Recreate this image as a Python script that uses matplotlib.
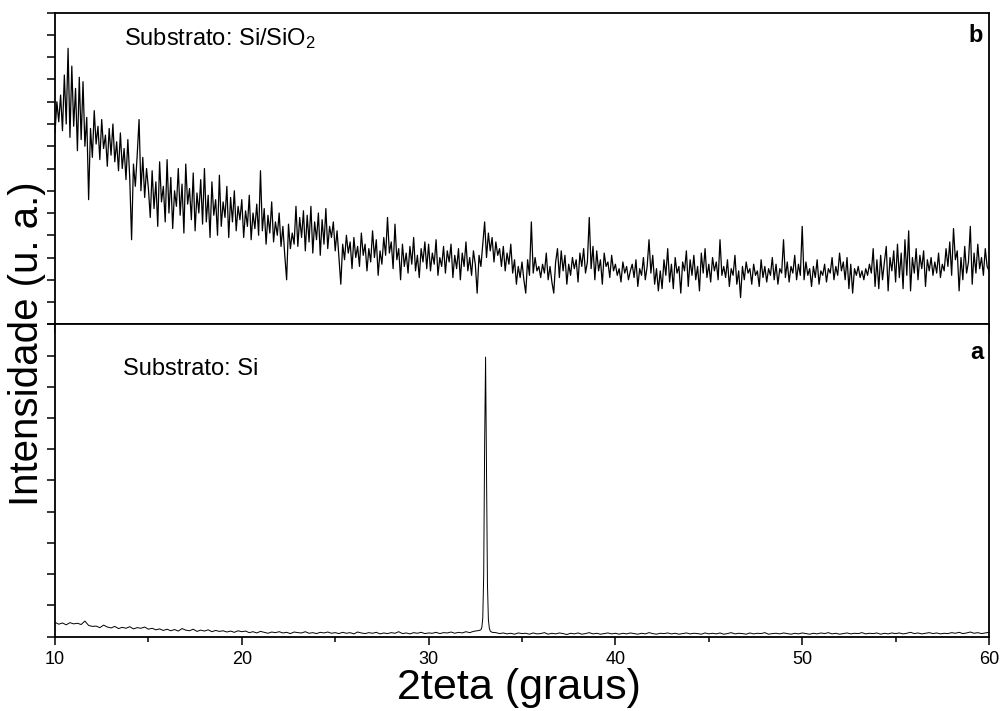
import numpy as np
import matplotlib.pyplot as plt
from matplotlib.ticker import MultipleLocator

plt.rcParams['font.family'] = ['Liberation Sans', 'DejaVu Sans']
plt.rcParams['mathtext.fontset'] = 'custom'
plt.rcParams['mathtext.rm'] = 'Liberation Sans'
plt.rcParams['mathtext.it'] = 'Liberation Sans:italic'

# (b) substrato Si/SiO2, passo de 0.1 grau
dois_teta_b = np.round(np.arange(10.0, 60.0001, 0.1), 1)
intensidade_b = [
    # 10.0 - 14.9
    8.6, 10.0, 9.1, 10.3, 8.7, 11.2, 9.0, 12.4, 8.4, 11.6,
    8.9, 10.6, 7.8, 11.1, 8.3, 10.9, 8.0, 9.3, 5.6, 8.8,
    7.5, 9.6, 8.1, 8.9, 7.4, 9.2, 7.9, 8.5, 7.1, 8.8,
    7.6, 9.0, 7.3, 8.2, 6.9, 8.6, 7.0, 7.9, 6.5, 8.3,
    6.6, 3.8, 7.2, 6.2, 7.6, 9.2, 6.0, 7.5, 5.7, 7.0,
    # 15.0 - 19.9
    6.1, 4.8, 6.9, 5.2, 6.4, 4.4, 7.3, 5.5, 6.2, 4.6,
    7.4, 5.0, 6.6, 4.3, 6.0, 5.3, 7.0, 4.9, 6.3, 4.1,
    7.2, 5.4, 6.1, 4.7, 6.8, 4.2, 5.9, 5.0, 6.5, 4.5,
    7.0, 4.6, 5.8, 3.9, 6.4, 4.9, 5.6, 4.0, 6.7, 4.4,
    5.5, 4.8, 6.2, 3.9, 5.7, 4.6, 6.0, 4.2, 5.3, 4.7,
    # 20.0 - 24.9
    5.6, 3.9, 5.1, 4.4, 5.8, 3.8, 5.0, 4.3, 5.4, 4.0,
    6.9, 4.2, 5.2, 3.6, 4.9, 4.1, 5.5, 3.7, 4.6, 4.0,
    5.0, 3.5, 4.4, 3.1, 2.0, 4.5, 3.4, 4.1, 3.6, 5.3,
    3.5, 4.8, 3.9, 5.1, 3.3, 4.9, 3.7, 5.3, 3.2, 4.6,
    3.8, 5.0, 3.1, 4.7, 3.6, 5.2, 3.4, 4.4, 3.9, 4.6,
    # 25.0 - 29.9
    3.3, 4.2, 3.0, 1.8, 3.6, 2.9, 4.0, 3.2, 3.7, 2.5,
    3.9, 3.0, 3.5, 2.6, 4.1, 3.1, 3.6, 2.4, 3.4, 2.8,
    4.2, 3.0, 3.8, 2.2, 3.3, 2.7, 3.9, 3.1, 4.8, 3.2,
    3.7, 2.5, 4.5, 2.9, 3.4, 2.0, 3.6, 2.6, 3.2, 2.3,
    3.5, 2.7, 3.9, 2.4, 3.1, 2.1, 3.4, 2.8, 3.7, 2.5,
    # 30.0 - 34.9
    3.6, 2.4, 3.2, 2.7, 3.8, 2.2, 3.0, 2.6, 3.5, 2.3,
    3.3, 2.8, 3.6, 2.1, 3.1, 2.5, 3.4, 2.0, 3.2, 2.6,
    3.7, 2.4, 3.0, 2.2, 3.3, 2.7, 1.4, 3.1, 2.6, 3.6,
    4.6, 3.0, 4.1, 3.3, 3.9, 2.8, 3.7, 3.1, 3.4, 2.6,
    3.5, 2.4, 3.2, 2.7, 3.6, 2.3, 2.9, 1.8, 2.6, 2.1,
    # 35.0 - 39.9
    2.8, 2.0, 1.4, 2.9, 2.2, 4.6, 2.3, 3.0, 2.4, 2.6,
    2.1, 2.7, 2.3, 3.2, 2.0, 2.6, 1.9, 1.4, 2.8, 3.4,
    2.1, 3.3, 2.4, 3.1, 1.8, 2.7, 2.2, 3.0, 2.5, 2.9,
    1.9, 3.2, 2.6, 3.4, 2.3, 2.8, 4.8, 2.5, 3.5, 2.0,
    3.3, 2.4, 2.9, 1.8, 3.2, 2.6, 2.8, 2.1, 3.1, 2.4,
    # 40.0 - 44.9
    2.7, 2.2, 2.5, 1.9, 2.8, 2.3, 2.6, 2.0, 2.4, 2.7,
    2.1, 2.9, 1.7, 2.5, 2.2, 3.0, 2.0, 2.6, 3.8, 2.3,
    3.1, 1.8, 2.5, 1.5, 2.4, 1.6, 2.9, 2.2, 3.4, 1.9,
    2.7, 1.6, 3.0, 2.3, 2.6, 1.4, 2.8, 2.4, 3.3, 1.7,
    2.9, 2.2, 3.1, 2.0, 2.6, 1.5, 3.2, 2.3, 3.4, 2.1,
    # 45.0 - 49.9
    2.7, 1.9, 3.0, 2.4, 2.8, 2.0, 3.8, 2.2, 2.6, 2.1,
    2.9, 1.7, 2.5, 2.2, 3.1, 1.8, 2.4, 1.2, 2.6, 2.0,
    2.8, 2.3, 2.5, 1.8, 2.7, 2.2, 2.4, 1.7, 2.9, 2.1,
    2.6, 1.9, 2.5, 2.2, 3.0, 2.0, 2.7, 1.8, 2.5, 2.3,
    3.8, 2.1, 2.8, 1.9, 2.6, 2.3, 3.1, 2.0, 2.7, 2.2,
    # 50.0 - 54.9
    4.4, 2.0, 2.8, 2.2, 2.5, 1.7, 2.6, 2.1, 2.9, 1.8,
    2.4, 2.2, 2.7, 1.9, 2.5, 2.3, 3.0, 2.0, 2.6, 2.2,
    3.2, 2.4, 2.8, 2.0, 3.0, 1.6, 2.7, 1.4, 2.5, 2.2,
    2.6, 2.1, 2.4, 2.0, 2.5, 2.2, 2.7, 2.3, 3.4, 1.7,
    2.9, 1.6, 3.1, 2.0, 2.8, 3.5, 1.5, 3.0, 2.4, 3.3,
    # 55.0 - 60.0
    1.9, 3.6, 2.1, 3.2, 1.6, 3.8, 2.2, 4.2, 1.5, 3.0,
    2.3, 3.4, 2.0, 3.1, 2.5, 3.3, 1.7, 2.9, 2.4, 3.0,
    2.2, 2.8, 2.3, 3.2, 2.1, 2.7, 2.4, 3.4, 2.6, 3.7,
    2.2, 4.3, 2.9, 3.3, 1.5, 3.0, 2.0, 3.5, 2.3, 2.8,
    4.4, 1.8, 3.2, 2.3, 3.6, 2.5, 3.0, 2.2, 3.4, 2.6,
    2.4,
]

# (a) substrato Si: fundo com passo de 0.2 grau + pico do Si
dois_teta_a_fundo = np.round(np.arange(10.0, 60.0001, 0.2), 1)
intensidade_a_fundo = [
    # 10.0 - 12.0
    0.46, 0.40, 0.44, 0.38, 0.45, 0.41, 0.43, 0.39, 0.50, 0.36, 0.33,
    # 12.2 - 15.0
    0.34, 0.29, 0.37, 0.31, 0.28, 0.33, 0.26, 0.30, 0.27, 0.32, 0.25, 0.29, 0.27, 0.31, 0.24,
    # 15.2 - 20.0
    0.27, 0.22, 0.25, 0.20, 0.24, 0.19, 0.23, 0.18, 0.26, 0.21, 0.19, 0.24, 0.17,
    0.21, 0.18, 0.22, 0.16, 0.20, 0.17, 0.19, 0.15, 0.18, 0.14, 0.19, 0.16,
    # 20.2 - 25.0
    0.18, 0.13, 0.16, 0.12, 0.17, 0.14, 0.11, 0.15, 0.13, 0.16, 0.12, 0.14, 0.10,
    0.15, 0.13, 0.12, 0.16, 0.11, 0.13, 0.10, 0.14, 0.12, 0.15, 0.11, 0.13,
    # 25.2 - 30.0
    0.10, 0.14, 0.11, 0.13, 0.09, 0.15, 0.12, 0.10, 0.13, 0.11, 0.14, 0.09, 0.12,
    0.10, 0.13, 0.11, 0.16, 0.10, 0.12, 0.09, 0.13, 0.11, 0.14, 0.10, 0.12,
    # 30.2 - 35.0
    0.11, 0.14, 0.10, 0.13, 0.12, 0.15, 0.11, 0.14, 0.12, 0.16, 0.13, 0.17, 0.19,
    0.22, 0.22, 0.22, 0.20, 0.13, 0.10, 0.12, 0.09, 0.11, 0.08, 0.12, 0.10,
    # 35.2 - 40.0
    0.11, 0.08, 0.12, 0.09, 0.10, 0.13, 0.08, 0.11, 0.09, 0.12, 0.10, 0.07, 0.11,
    0.09, 0.12, 0.08, 0.10, 0.13, 0.09, 0.11, 0.08, 0.10, 0.12, 0.09, 0.11,
    # 40.2 - 45.0
    0.08, 0.11, 0.09, 0.12, 0.10, 0.08, 0.11, 0.09, 0.13, 0.10, 0.08, 0.11, 0.10,
    0.12, 0.09, 0.11, 0.08, 0.10, 0.12, 0.09, 0.11, 0.10, 0.08, 0.12, 0.09,
    # 45.2 - 50.0
    0.11, 0.09, 0.12, 0.08, 0.10, 0.13, 0.09, 0.11, 0.10, 0.08, 0.12, 0.09, 0.11,
    0.10, 0.13, 0.08, 0.10, 0.11, 0.09, 0.12, 0.10, 0.08, 0.11, 0.09, 0.12,
    # 50.2 - 55.0
    0.10, 0.08, 0.11, 0.09, 0.12, 0.10, 0.13, 0.09, 0.11, 0.08, 0.10, 0.12, 0.09,
    0.11, 0.10, 0.13, 0.09, 0.11, 0.10, 0.12, 0.08, 0.11, 0.09, 0.12, 0.10,
    # 55.2 - 60.0
    0.12, 0.09, 0.11, 0.14, 0.10, 0.12, 0.09, 0.11, 0.13, 0.10, 0.12, 0.09, 0.11,
    0.10, 0.13, 0.11, 0.14, 0.10, 0.12, 0.15, 0.11, 0.13, 0.10, 0.12, 0.14,
]
pico_a_x = [32.7, 32.8, 32.85, 32.9, 32.95, 33.0, 33.05, 33.1, 33.15, 33.2, 33.25, 33.3, 33.4]
pico_a_y = [0.20, 0.22, 0.30, 0.60, 2.00, 6.20, 8.95, 5.20, 1.70, 0.55, 0.28, 0.18, 0.14]

assert len(intensidade_b) == len(dois_teta_b)
assert len(intensidade_a_fundo) == len(dois_teta_a_fundo)

# junta fundo e pico
fundo = np.array(intensidade_a_fundo)
fora = (dois_teta_a_fundo < 32.65) | (dois_teta_a_fundo > 33.45)
x_a = np.concatenate([dois_teta_a_fundo[fora], pico_a_x])
y_a = np.concatenate([fundo[fora], pico_a_y])
ordem = np.argsort(x_a)
x_a, y_a = x_a[ordem], y_a[ordem]

fig = plt.figure(figsize=(10, 7.11), dpi=100)
ax_b = fig.add_axes([0.055, 0.5439, 0.934, 0.4382])
ax_a = fig.add_axes([0.055, 0.1045, 0.934, 0.4394], sharex=ax_b)

ax_b.plot(dois_teta_b, intensidade_b, color='black', lw=0.9)
ax_a.plot(x_a, y_a, color='black', lw=0.7)

ax_b.set_xlim(10, 60)
ax_b.set_ylim(0, 14)
ax_a.set_ylim(0, 10)

for ax in (ax_b, ax_a):
    for s in ax.spines.values():
        s.set_linewidth(1.3)
    ax.yaxis.set_major_locator(MultipleLocator(1))
    ax.tick_params(axis='y', which='major', direction='out', length=5.8, width=1.1,
                   left=True, right=False, labelleft=False)
    ax.xaxis.set_major_locator(MultipleLocator(10))
    ax.xaxis.set_minor_locator(MultipleLocator(5))

ax_b.tick_params(axis='x', which='major', direction='out', length=6.5, width=1.1,
                 bottom=True, top=False, labelbottom=False)
ax_b.tick_params(axis='x', which='minor', direction='out', length=4.3, width=1.1,
                 bottom=True, top=False)
ax_a.tick_params(axis='x', which='major', direction='out', length=5.5, width=1.1,
                 bottom=True, top=False, labelsize=13, pad=5)
ax_a.tick_params(axis='x', which='minor', direction='out', length=3.5, width=1.1,
                 bottom=True, top=False)

ax_b.text(0.0739, 0.8963, 'Substrato: Si/SiO$_2$', transform=ax_b.transAxes,
          fontsize=17, ha='left', va='baseline')
ax_a.text(0.0725, 0.8377, 'Substrato: Si', transform=ax_a.transAxes,
          fontsize=17, ha='left', va='baseline')
ax_b.text(0.9936, 0.907, 'b', transform=ax_b.transAxes, fontsize=17,
          fontweight='bold', ha='right', va='baseline')
ax_a.text(0.9936, 0.89, 'a', transform=ax_a.transAxes, fontsize=17,
          fontweight='bold', ha='right', va='baseline')

fig.text(0.027, 0.516, 'Intensidade (u. a.)', rotation=90, fontsize=29,
         ha='center', va='center')
fig.text(0.519, 0.032, '2teta (graus)', fontsize=31, ha='center', va='center')

fig.savefig('out.png', dpi=100)
